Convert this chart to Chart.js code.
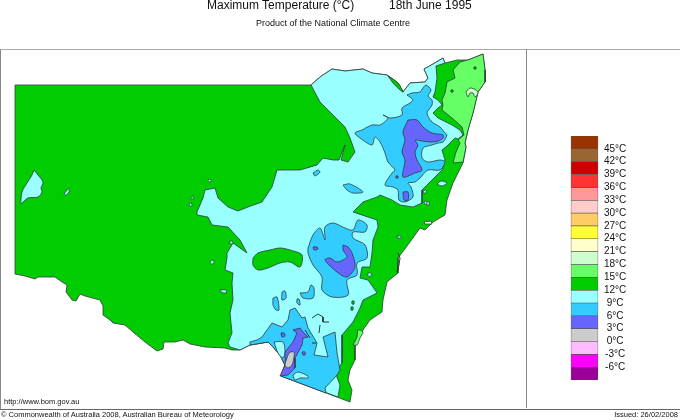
<!DOCTYPE html>
<html lang="en">
<head>
<meta charset="UTF-8">
<title>Maximum Temperature 18th June 1995</title>
<script src="https://cdn.jsdelivr.net/npm/chart.js"></script>
<style>
  html, body { margin: 0; padding: 0; background: #fff; overflow: hidden; }
  body { width: 680px; height: 420px; position: relative; font-family: "Liberation Sans", Arial, sans-serif; color: #111; }
  canvas { position: absolute; }
  .frame { position: absolute; left: 0; top: 49px; width: 679px; height: 359px; border: 1px solid #aaa; border-right: 0; border-bottom-color: #666; border-left-color: #888; }
  .divider { position: absolute; left: 526px; top: 49px; width: 1px; height: 359px; background: #888; }
  .t { position: absolute; white-space: nowrap; }
</style>
</head>
<body>
<div class="frame"></div>
<div class="divider"></div>
<canvas id="map" width="680" height="420" style="left:0;top:0"></canvas>
<canvas id="key" width="78" height="270" style="left:565px;top:120px"></canvas>
<div class="t" style="left:207px;top:-2px;font-size:12px;line-height:14px">Maximum Temperature (°C)</div>
<div class="t" style="left:389px;top:-2px;font-size:12px;line-height:14px">18th June 1995</div>
<div class="t" style="left:256px;top:17px;font-size:9px;line-height:12px">Product of the National Climate Centre</div>
<div class="t" style="left:4px;top:397px;font-size:7.5px;line-height:10px">http://www.bom.gov.au</div>
<div class="t" style="left:1px;top:410px;font-size:7.5px;line-height:10px">© Commonwealth of Australia 2008, Australian Bureau of Meteorology</div>
<div class="t" style="right:2px;top:410px;font-size:7.5px;line-height:10px">Issued: 26/02/2008</div>
<script>
// contour outlines, in map grid units
const stateOutline = [[15,85],[311,85],[320,77],[332,69],[345,71],[363,69],[372,73],[387,75],[398,83],[403,92],[410,83],[425,82],[428,78],[424,69],[433,64],[443,58],[445,63],[457,60],[468,60],[483,54],[485,70],[485,82],[478,92],[473,113],[468,130],[465,143],[466,147],[463,163],[453,183],[447,200],[445,215],[433,222],[425,230],[420,228],[410,242],[398,258],[398,273],[387,282],[383,300],[382,312],[370,320],[363,330],[355,343],[355,360],[350,370],[348,380],[352,390],[350,402],[281,376],[285,365],[280,355],[273,347],[268,342],[250,345],[240,350],[232,350],[225,348],[205,347],[190,344],[183,340],[175,342],[164,342],[163,349],[157,351],[145,342],[133,332],[125,325],[113,323],[110,320],[103,315],[103,306],[100,300],[85,296],[80,294],[76,301],[72,300],[66,292],[67,285],[62,282],[55,277],[38,277],[35,279],[25,276],[15,274]];
const band9Main = [[311,85],[320,77],[332,69],[345,71],[363,69],[372,73],[387,75],[398,83],[403,92],[410,83],[425,82],[428,78],[424,69],[433,64],[443,58],[445,63],[436,66],[437,78],[435,92],[433,97],[438,100],[442,105],[438,108],[433,113],[438,118],[452,125],[460,130],[463,135],[458,139],[455,138],[447,146],[442,150],[445,160],[442,170],[430,182],[422,190],[422,203],[413,207],[400,205],[392,200],[380,195],[377,197],[363,202],[353,212],[362,215],[377,220],[378,227],[373,240],[372,253],[370,267],[362,267],[360,278],[368,280],[375,290],[377,293],[363,300],[360,308],[353,322],[342,335],[342,352],[342,363],[335,372],[340,385],[338,397],[281,376],[285,365],[280,355],[273,347],[268,342],[250,345],[240,350],[230,347],[228,343],[232,333],[230,313],[233,300],[232,283],[233,273],[225,270],[227,258],[227,253],[233,243],[247,253],[240,240],[228,227],[212,225],[208,217],[197,215],[197,212],[203,198],[205,190],[215,188],[218,198],[228,207],[238,211],[248,207],[262,202],[272,187],[277,170],[300,170],[317,165],[323,158],[333,160],[339,160],[345,145],[341,160],[348,162],[355,152],[350,138],[345,127],[333,115],[320,102]];
const band9West = [[34,170],[38,175],[43,182],[41,188],[42,192],[38,197],[28,198],[23,202],[21,204],[22,192],[27,183],[32,175]];
const band9Specks = [
  [[64,194],[67,190],[69,189],[69,192],[66,195]],
  [[208,180],[210,179],[211,181],[209,182]],
  [[191,197],[193,196],[193,199],[191,199]],
  [[189,204],[191,203],[192,206],[190,206]],
  [[229,242],[232,241],[233,243],[231,244]],
  [[210,262],[213,260],[214,263],[211,264]],
  [[220,290],[226,290],[226,293],[221,292]],
  [[437,184],[441,181],[447,183],[442,186]],
  [[423,191],[426,190],[426,193],[424,193]],
  [[426,202],[429,202],[429,205],[427,205]],
  [[397,236],[401,236],[401,238],[398,238]],
  [[368,273],[371,273],[371,276],[368,276]],
  [[424,202],[426,201],[427,204],[425,204]]
];
const band12Patches = [
  [[253,258],[258,253],[270,250],[280,248],[290,250],[302,255],[300,267],[290,262],[280,263],[268,268],[258,270],[253,265]],
  [[388,76],[398,83],[403,92],[400,90],[393,83]],
  [[352,301],[354,301],[354,304],[352,304]],
  [[351,307],[353,307],[353,310],[351,310]]
];
const band15Main = [[460,62],[468,60],[483,54],[485,70],[485,82],[478,92],[473,113],[468,130],[465,143],[466,147],[463,162],[453,163],[456,152],[460,143],[458,140],[464,135],[462,127],[452,118],[442,110],[443,105],[442,100],[445,93],[447,82],[455,78],[453,70]];
const band15South = [[353,345],[357,337],[358,330],[363,332],[360,338],[357,345]];
const band18Patch = [[466,92],[470,88],[476,90],[478,93],[475,97],[473,93],[470,93],[468,97]];
const band12InLight = [[[474,67],[476,67],[476,69],[474,69]],[[451,90],[453,90],[453,92],[451,92]]];
const band6North = [[407,95],[412,93],[420,92],[423,88],[426,85],[431,90],[428,96],[432,100],[432,105],[427,113],[432,122],[440,127],[445,133],[447,135],[443,142],[438,143],[432,145],[423,148],[422,158],[428,162],[440,160],[445,162],[440,170],[428,170],[420,178],[415,182],[408,183],[411,187],[413,197],[405,202],[399,200],[398,190],[393,187],[385,185],[392,173],[395,170],[388,162],[385,153],[380,142],[375,137],[372,145],[360,138],[355,133],[362,130],[372,125],[380,125],[388,118],[383,115],[390,118],[402,115],[402,108],[410,103],[413,100]];
const band6Patches = [
  [[343,185],[350,184],[363,192],[353,193],[347,190]],
  [[313,173],[318,170],[320,172],[315,176]],
  [[300,293],[308,292],[311,285],[314,288],[313,298],[303,298]],
  [[282,292],[285,291],[286,298],[282,300]],
  [[273,298],[277,297],[279,310],[276,310],[273,305]],
  [[297,299],[299,299],[300,305],[297,303]]
];
const band6Middle = [[308,248],[313,235],[320,228],[325,240],[325,227],[333,223],[345,228],[353,230],[358,220],[367,225],[365,232],[353,232],[353,238],[365,245],[367,258],[357,263],[357,275],[347,280],[348,295],[332,297],[322,290],[322,277],[313,265],[308,253]];
const band6South = [[250,342],[257,340],[262,337],[272,323],[282,327],[288,320],[290,310],[295,308],[302,318],[305,317],[308,328],[317,343],[314,355],[328,357],[323,337],[335,332],[337,353],[340,370],[337,375],[325,388],[326,393],[281,376],[285,365],[280,355],[273,347],[268,342],[250,345]];
const band9Pockets = [
  [[274,342],[283,342],[285,352],[283,358],[278,353]],
  [[293,375],[298,372],[308,376],[308,378],[300,378],[295,380]]
];
const band3North = [[408,120],[417,120],[423,127],[432,133],[443,135],[443,138],[438,141],[430,142],[422,141],[415,140],[418,145],[415,152],[417,160],[422,170],[415,173],[403,177],[405,160],[402,152],[405,140],[403,132]];
const band3Patches = [
  [[403,192],[408,192],[408,200],[404,200]],
  [[396,176],[398,176],[398,178],[396,178]],
  [[313,247],[317,247],[318,249],[314,250]],
  [[281,333],[284,333],[285,336],[282,337]],
  [[302,352],[305,352],[305,355],[303,355]]
];
const band3Middle = [[343,245],[348,247],[352,253],[355,267],[347,277],[337,272],[325,260],[330,258],[337,262],[347,257],[343,250]];
const band3South = [[293,330],[300,328],[303,332],[308,337],[303,338],[302,345],[295,358],[295,368],[288,375],[280,376],[285,365],[285,352],[293,342],[297,333]];
const band0Patch = [[290,352],[294,352],[294,357],[292,365],[288,368],[285,365],[287,358],[288,355]];
const coastInlet = [[424,222],[431,221],[432,224],[425,224]];
const contourBits = [
  [[312,318],[318,314],[323,317],[323,322],[329,322]],
  [[320,325],[319,333]],
  [[305,330],[310,338]],
  [[312,343],[316,343]],
  [[398,253],[400,258],[399,265],[397,272]]
];

const keyTicks = [45, 42, 39, 36, 33, 30, 27, 24, 21, 18, 15, 12, 9, 6, 3, 0, -3, -6];
const keyBands = [[45,48],[42,45],[39,42],[36,39],[33,36],[30,33],[27,30],[24,27],[21,24],[18,21],[15,18],[12,15],[9,12],[6,9],[3,6],[0,3],[-3,0],[-6,-3],[-9,-6]];
const keyColors = ["#993300","#996633","#cc0000","#ff3333","#ff9999","#ffcccc","#ffcc66","#ffff33","#ffffcc","#ccffcc","#66ff66","#00cc00","#99ffff","#33ccff","#6666ff","#cccccc","#ffbbff","#ff00ff","#990099"];

const GREEN = "#00cc00", CYAN = "#99ffff", BLUE = "#33ccff", VIOLET = "#6666ff";

function shape(points, color, tension = 0.3) {
    const closed = points.concat([points[0]]);
    return {
        data: closed.map(p => ({ x: p[0], y: p[1] })),
        showLine: true,
        fill: "shape",
        backgroundColor: color,
        borderColor: "#2c3c3c",
        borderWidth: 0.8,
        pointRadius: 0,
        tension: tension
    };
}

function contourLine(points) {
    return {
        data: points.map(p => ({ x: p[0], y: p[1] })),
        showLine: true,
        fill: false,
        borderColor: "#222",
        borderWidth: 0.9,
        pointRadius: 0
    };
}

// bottom layer first, the edges on the state border stay straight
const layers = [
    shape(stateOutline, GREEN, 0),
    shape(band9Main, CYAN, 0),
    shape(band9West, CYAN),
    ...band9Specks.map(s => shape(s, CYAN)),
    ...band12Patches.map(s => shape(s, GREEN)),
    shape(band15Main, "#66ff66", 0),
    shape(band15South, "#66ff66"),
    shape(band18Patch, "#ccffcc"),
    ...band12InLight.map(s => shape(s, GREEN)),
    shape(band6North, BLUE),
    shape(band6Middle, BLUE),
    shape(band6South, BLUE, 0),
    ...band6Patches.map(s => shape(s, BLUE)),
    ...band9Pockets.map(s => shape(s, CYAN)),
    shape(band3North, VIOLET),
    shape(band3Middle, VIOLET),
    shape(band3South, VIOLET, 0),
    ...band3Patches.map(s => shape(s, VIOLET)),
    shape(band0Patch, "#cccccc"),
    shape(coastInlet, "#ffffff", 0),
    ...contourBits.map(contourLine)
];

new Chart(document.getElementById("map"), {
    type: "scatter",
    data: { datasets: layers.reverse() },
    options: {
        responsive: false,
        animation: false,
        layout: { padding: 0 },
        plugins: { legend: { display: false }, tooltip: { enabled: false } },
        scales: {
            x: { type: "linear", min: 0, max: 680, display: false },
            y: { type: "linear", min: 0, max: 420, reverse: true, display: false }
        }
    }
});

new Chart(document.getElementById("key"), {
    type: "bar",
    data: {
        labels: ["key"],
        datasets: keyBands.map((band, i) => ({
            data: [band],
            backgroundColor: keyColors[i],
            borderColor: "#555",
            borderWidth: 0.6,
            barThickness: 27,
            grouped: false,
            borderSkipped: false
        }))
    },
    options: {
        responsive: false,
        animation: false,
        layout: { padding: { top: 16, bottom: 10, left: 0, right: 0 } },
        plugins: { legend: { display: false }, tooltip: { enabled: false } },
        scales: {
            x: { display: false },
            y: {
                position: "right",
                min: -9,
                max: 48,
                afterFit: scale => { scale.width = 39; },
                border: { display: false },
                grid: { display: false, drawTicks: false },
                ticks: {
                    stepSize: 3,
                    autoSkip: false,
                    padding: 0,
                    crossAlign: "center",
                    color: "#111",
                    font: { family: "'Liberation Sans', Arial, sans-serif", size: 10 },
                    callback: v => keyTicks.includes(v) ? v + "°C" : null
                }
            }
        }
    }
});
</script>
</body>
</html>
